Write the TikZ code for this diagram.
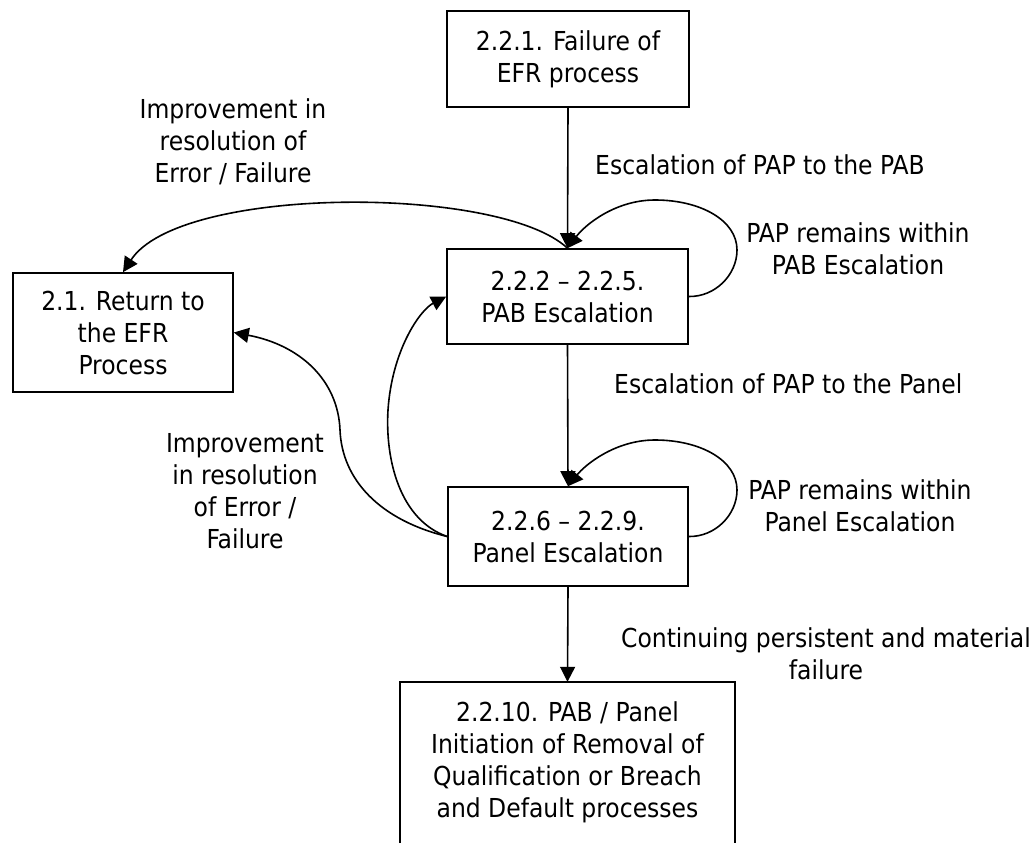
\documentclass[tikz,border=0pt]{standalone}
\usepackage{fontspec}
\setmainfont{DejaVu Sans Condensed}
\usetikzlibrary{arrows.meta}
\tikzset{
  box/.style={draw, line width=1.6pt, align=center, inner sep=0pt},
  lbl/.style={align=center, inner sep=0pt},
  arr/.style={line width=1.6pt, -{Triangle[length=15pt,width=15pt]}},
  ln/.style={line width=1.6pt}
}
\begin{document}
\begin{tikzpicture}[x=1pt,y=-1pt,font=\fontsize{26.1}{32}\selectfont]
\useasboundingbox (0,0) rectangle (1035,843);
% boxes
\node[box, minimum width=242pt, minimum height=96pt] (b1) at (568,59) {2.2.1. Failure of\\EFR process};
\node[box, minimum width=241pt, minimum height=95pt] (pab) at (567.5,296.5) {2.2.2 – 2.2.5.\\PAB Escalation};
\node[box, minimum width=240pt, minimum height=99pt] (panel) at (568,536.5) {2.2.6 – 2.2.9.\\Panel Escalation};
\node[box, minimum width=220pt, minimum height=119pt] (ret) at (123,332.5) {2.1. Return to\\the EFR\\Process};
\node[lbl, minimum width=335pt, minimum height=161pt] (bot) at (567.5,762.5) {2.2.10. PAB / Panel\\Initiation of Removal of\\Qualification or Breach\\and Default processes};
\draw[ln] (bot.south west) -- (bot.north west) -- (bot.north east) -- (bot.south east);
% labels
\node[lbl, anchor=west] (l1) at (595,165) {Escalation of PAP to the PAB};
\node[lbl] (l2) at (858,249) {PAP remains within\\PAB Escalation};
\node[lbl, anchor=west] (l3) at (614,384) {Escalation of PAP to the Panel};
\node[lbl] (l4) at (860,506) {PAP remains within\\Panel Escalation};
\node[lbl] (l5) at (826,654) {Continuing persistent and material\\failure};
\node[lbl] (l6) at (233,142) {Improvement in\\resolution of\\Error / Failure};
\node[lbl] (l7) at (245,491) {Improvement\\in resolution\\of Error /\\Failure};
% connectors
\draw[arr] (b1.south) -- (pab.north);
\draw[arr] (pab.east) .. controls (715,297) and (737,275) .. (737,250)
   .. controls (737,220) and (700,200) .. (655,200)
   .. controls (615,200) and (585,225) .. (pab.north);
\draw[arr] (pab.north) .. controls (500,185) and (180,185) .. (ret.north);
\draw[arr] (pab.south) -- (panel.north);
\draw[arr] (panel.east) .. controls (715,537) and (737,515) .. (737,490)
   .. controls (737,460) and (700,440) .. (655,440)
   .. controls (615,440) and (585,465) .. (panel.north);
\draw[arr] (panel.west) .. controls (380,520) and (342,480) .. (340,430)
   .. controls (338,380) and (300,345) .. (ret.east);
\draw[arr] (panel.west) .. controls (400,520) and (385,460) .. (388,410)
   .. controls (392,350) and (420,310) .. (pab.west);
\draw[arr] (panel.south) -- (bot.north);
\end{tikzpicture}
\end{document}
